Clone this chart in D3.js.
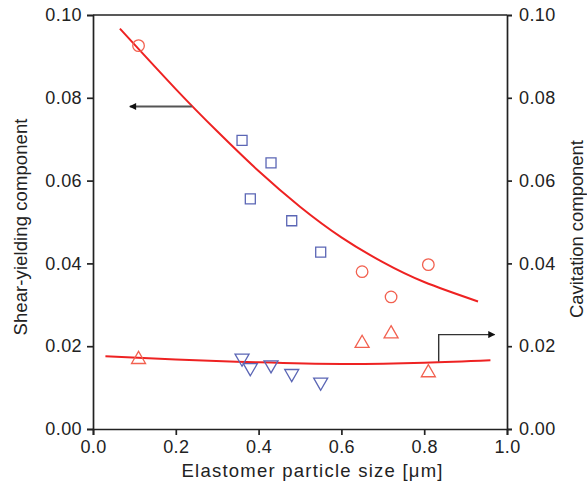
<!DOCTYPE html>
<html>
<head>
<meta charset="utf-8">
<script src="https://cdn.jsdelivr.net/npm/d3@7"></script>
<style>
  body { margin: 0; background: #fff; }
  text { font-family: "Liberation Sans", Arial, sans-serif; fill: #222; }
</style>
</head>
<body>
<svg id="chart" width="587" height="492"></svg>
<script>
const circleX = [0.11, 0.65, 0.72, 0.81];
const circleY = [0.0926, 0.0380, 0.0319, 0.0397];
const squareX = [0.36, 0.38, 0.43, 0.48, 0.55];
const squareY = [0.0697, 0.0556, 0.0643, 0.0503, 0.0427];
const triDownX = [0.36, 0.38, 0.43, 0.48, 0.55];
const triDownY = [0.0171, 0.0148, 0.0155, 0.0134, 0.0113];
const triUpX = [0.11, 0.65, 0.72, 0.81];
const triUpY = [0.0168, 0.0207, 0.0230, 0.0136];

// fitted curves
const shearFitX = [0.065, 0.2, 0.3, 0.4, 0.5, 0.6, 0.7, 0.8, 0.93];
const shearFitY = [0.0967, 0.0821, 0.0719, 0.0623, 0.0537, 0.0463, 0.0403, 0.0355, 0.0308];
const cavFitX = [0.03, 0.2, 0.4, 0.6, 0.8, 0.96];
const cavFitY = [0.0176, 0.0168, 0.0161, 0.0157, 0.0160, 0.0166];

// arrows pointing at the axis each curve belongs to
const leftArrowX = [0.239, 0.089];
const leftArrowY = [0.0779, 0.0779];
const rightArrowX = [0.835, 0.835, 0.97];
const rightArrowY = [0.0163, 0.0228, 0.0228];

const xTicks = [0, 0.2, 0.4, 0.6, 0.8, 1.0];
const yTicks = [0, 0.02, 0.04, 0.06, 0.08, 0.10];

const [mLeft, mRight, mTop, mBottom] = [93, 507, 15, 429];
const svg = d3.select("#chart");

const x = d3.scaleLinear().domain([0, 1]).range([mLeft, mRight]);
const y = d3.scaleLinear().domain([0, 0.1]).range([mBottom, mTop]);

const zip = (a, b) => a.map((v, i) => [v, b[i]]);

// frame + axes
svg.append("line").attr("x1", mLeft).attr("x2", mRight).attr("y1", mTop).attr("y2", mTop)
  .attr("stroke", "#222").attr("stroke-width", 1.7);

const styleAxis = g => {
  g.select(".domain").attr("stroke", "#222").attr("stroke-width", 1.7);
  g.selectAll(".tick line").attr("stroke", "#222").attr("stroke-width", 1.7);
  g.selectAll("text").style("font-size", "18px").style("letter-spacing", "0.4px").attr("fill", "#222")
    .style("font-family", "'Liberation Sans', Arial, sans-serif");
};

svg.append("g").attr("transform", `translate(0,${mBottom})`)
  .call(d3.axisBottom(x).tickValues(xTicks).tickFormat(d3.format(".1f")).tickSizeOuter(0).tickSize(6).tickPadding(5))
  .call(styleAxis);
svg.append("g").attr("transform", `translate(${mLeft},0)`)
  .call(d3.axisLeft(y).tickValues(yTicks).tickFormat(d3.format(".2f")).tickSizeOuter(0).tickSize(6).tickPadding(5))
  .call(styleAxis);
svg.append("g").attr("transform", `translate(${mRight},0)`)
  .call(d3.axisRight(y).tickValues(yTicks).tickFormat(d3.format(".2f")).tickSizeOuter(0).tickSize(5).tickPadding(7))
  .call(styleAxis);

// titles
svg.append("text").attr("x", 312).attr("y", 477).attr("text-anchor", "middle")
  .attr("textLength", 261).attr("lengthAdjust", "spacing")
  .style("font-size", "18.5px").text("Elastomer particle size [μm]");
svg.append("text").attr("transform", "translate(27,227) rotate(-90)").attr("text-anchor", "middle")
  .attr("textLength", 217).attr("lengthAdjust", "spacing")
  .style("font-size", "18.5px").text("Shear-yielding component");
svg.append("text").attr("transform", "translate(583,229) rotate(-90)").attr("text-anchor", "middle")
  .attr("textLength", 178).attr("lengthAdjust", "spacing")
  .style("font-size", "18.5px").text("Cavitation component");

// fit lines
const line = d3.line().x(d => x(d[0])).y(d => y(d[1])).curve(d3.curveNatural);
svg.append("path").attr("d", line(zip(shearFitX, shearFitY)))
  .attr("fill", "none").attr("stroke", "#ee2222").attr("stroke-width", 2);
svg.append("path").attr("d", line(zip(cavFitX, cavFitY)))
  .attr("fill", "none").attr("stroke", "#ee2222").attr("stroke-width", 2);

// arrows
svg.append("defs").append("marker").attr("id", "head")
  .attr("viewBox", "0 0 10 10").attr("refX", 9).attr("refY", 5)
  .attr("markerWidth", 11).attr("markerHeight", 7).attr("markerUnits", "userSpaceOnUse")
  .attr("orient", "auto")
  .append("path").attr("d", "M0,0L10,5L0,10z").attr("fill", "#111");

const straight = d3.line().x(d => x(d[0])).y(d => y(d[1]));
svg.append("path").attr("d", straight(zip(leftArrowX, leftArrowY)))
  .attr("fill", "none").attr("stroke", "#555").attr("stroke-width", 2).attr("marker-end", "url(#head)");
svg.append("path").attr("d", straight(zip(rightArrowX, rightArrowY)))
  .attr("fill", "none").attr("stroke", "#333").attr("stroke-width", 1.4).attr("marker-end", "url(#head)");

// markers
const redMark = "#f2604f", blueMark = "#5b66b5";
const drawSymbols = (xs, ys, type, size, color, rotate) => {
  svg.append("g").selectAll("path").data(zip(xs, ys)).join("path")
    .attr("d", d3.symbol().type(type).size(size))
    .attr("transform", d => `translate(${x(d[0])},${y(d[1])})${rotate ? " rotate(180)" : ""}`)
    .attr("fill", "none").attr("stroke", color).attr("stroke-width", 1.3);
};
drawSymbols(circleX, circleY, d3.symbolCircle, 105, redMark, false);
drawSymbols(squareX, squareY, d3.symbolSquare, 100, blueMark, false);
drawSymbols(triDownX, triDownY, d3.symbolTriangle, 85, blueMark, true);
drawSymbols(triUpX, triUpY, d3.symbolTriangle, 85, redMark, false);
</script>
</body>
</html>
